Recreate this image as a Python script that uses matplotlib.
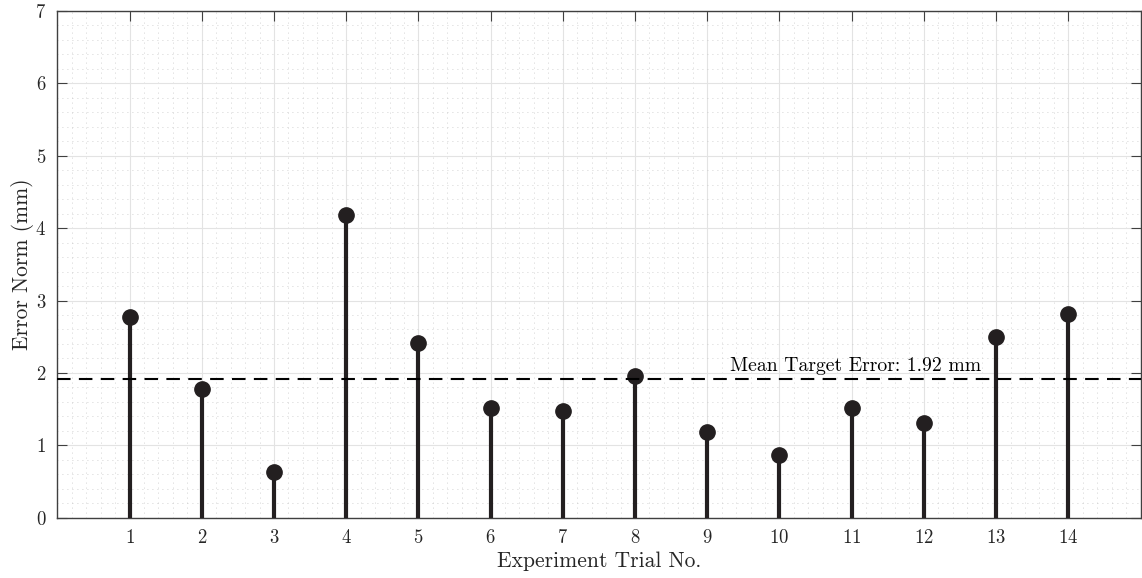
import matplotlib
matplotlib.use("Agg")
import matplotlib.pyplot as plt
from matplotlib.ticker import MultipleLocator
import numpy as np

plt.rcParams['font.family'] = ['cmr10', 'DejaVu Serif']
plt.rcParams['axes.formatter.use_mathtext'] = True

# data
trials = [1, 2, 3, 4, 5, 6, 7, 8, 9, 10, 11, 12, 13, 14]
error_norm = [2.77, 1.78, 0.63, 4.18, 2.42, 1.52, 1.48, 1.96, 1.18, 0.87, 1.51, 1.31, 2.50, 2.81]
mean_err = 1.92
mean_label = "Mean Target Error: 1.92 mm"

stem_col = '#231f20'

fig = plt.figure(figsize=(11.42, 5.78), dpi=100)
ax = fig.add_axes([0.0502, 0.1043, 0.9485, 0.8767])

# grid first so it sits behind
ax.set_axisbelow(True)
ax.xaxis.set_minor_locator(MultipleLocator(0.2))
ax.yaxis.set_minor_locator(MultipleLocator(0.2))
ax.grid(which='major', color='#e3e3e3', linewidth=0.8)
ax.grid(which='minor', color='#c4c4c4', linestyle=(0, (1, 5)), linewidth=0.6)

ax.vlines(trials, 0, error_norm, color=stem_col, linewidth=3.0, zorder=3)
ax.plot(trials, error_norm, 'o', color=stem_col, markersize=11, zorder=4)

ax.axhline(mean_err, color='black', linestyle=(0, (6.5, 4)), linewidth=1.5, zorder=5)
ax.text(9.32, mean_err + 0.1, mean_label, fontsize=14.2, ha='left', va='baseline', zorder=6)

ax.set_xlim(0, 15)
ax.set_ylim(0, 7)
ax.set_xticks(trials)
ax.set_yticks(range(0, 8))

ax.tick_params(which='major', direction='in', length=7, width=0.8, color='#404040',
               top=True, right=True, labelsize=13.5, labelcolor='#262626', pad=8)
ax.tick_params(which='minor', length=0)
for s in ax.spines.values():
    s.set_color('#404040')
    s.set_linewidth(1.0)

ax.set_xlabel('Experiment Trial No.', fontsize=15.5, color='#262626', labelpad=3)
ax.set_ylabel('Error Norm (mm)', fontsize=15.5, color='#262626', labelpad=1)

fig.savefig("out.png", dpi=100)
